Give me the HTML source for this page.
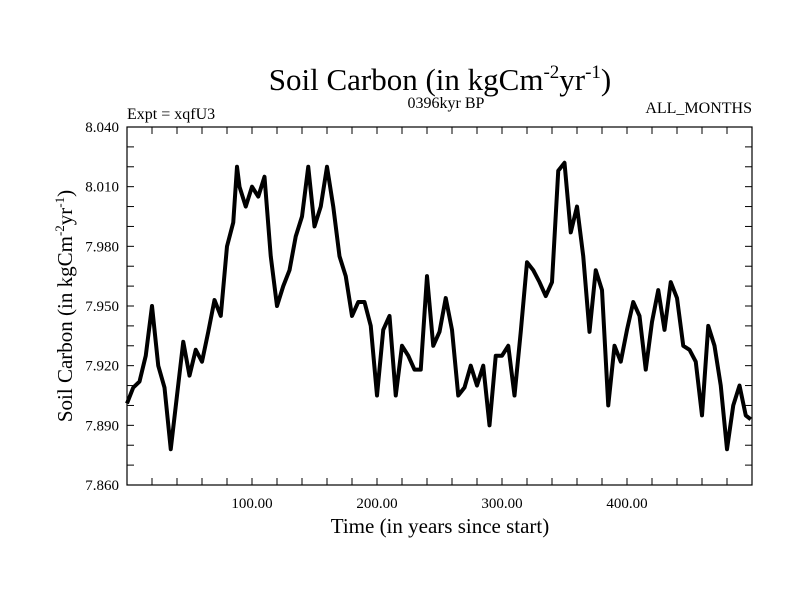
<!DOCTYPE html>
<html><head><meta charset="utf-8"><style>
body{margin:0;background:#fff}
svg{display:block;font-family:"Liberation Serif",serif}
</style></head><body>
<svg id="chart" width="800" height="600">
<text x="440" y="90" font-size="31" text-anchor="middle">Soil Carbon (in kgCm<tspan font-size="19" dy="-12">-2</tspan><tspan dy="12">yr</tspan><tspan font-size="19" dy="-12">-1</tspan><tspan dy="12">)</tspan></text>
<text x="127" y="119" font-size="16">Expt = xqfU3</text>
<text x="446" y="108" font-size="16" text-anchor="middle">0396kyr BP</text>
<text x="752" y="113" font-size="16" text-anchor="end">ALL_MONTHS</text>
<text x="440" y="533" font-size="21" text-anchor="middle">Time (in years since start)</text>
<text transform="translate(72,306) rotate(-90)" font-size="21" text-anchor="middle">Soil Carbon (in kgCm<tspan font-size="13" dy="-8">-2</tspan><tspan dy="8">yr</tspan><tspan font-size="13" dy="-8">-1</tspan><tspan dy="8">)</tspan></text>
<g id="axes"></g>
<g id="series"></g>
<rect x="127" y="127" width="625" height="358" fill="none" stroke="#000" stroke-width="1.2"/>
</svg>
<script>
const years = [0,5,10,15,20,25,30,35,40,45,50,55,60,65,70,75,80,85,88,90,95,100,105,110,115,120,125,130,135,140,145,150,155,160,165,170,175,180,185,190,195,200,205,210,215,220,225,230,235,240,245,250,255,260,265,270,275,280,285,290,295,300,305,310,315,320,325,330,335,340,345,350,355,360,365,370,375,380,385,390,395,400,405,410,415,420,425,430,435,440,445,450,455,460,465,470,475,480,485,490,495,499];
const values = [7.901,7.909,7.912,7.925,7.950,7.920,7.909,7.878,7.905,7.932,7.915,7.928,7.922,7.937,7.953,7.945,7.980,7.992,8.020,8.010,8.000,8.010,8.005,8.015,7.975,7.950,7.960,7.968,7.985,7.995,8.020,7.990,8.000,8.020,8.000,7.975,7.965,7.945,7.952,7.952,7.940,7.905,7.938,7.945,7.905,7.930,7.925,7.918,7.918,7.965,7.930,7.937,7.954,7.938,7.905,7.909,7.920,7.910,7.920,7.890,7.925,7.925,7.930,7.905,7.937,7.972,7.968,7.962,7.955,7.962,8.018,8.022,7.987,8.000,7.975,7.937,7.968,7.958,7.900,7.930,7.922,7.938,7.952,7.945,7.918,7.942,7.958,7.938,7.962,7.954,7.930,7.928,7.922,7.895,7.940,7.930,7.910,7.878,7.900,7.910,7.895,7.893];
const yTicks = ["7.860","7.890","7.920","7.950","7.980","8.010","8.040"];
const xTicks = ["100.00","200.00","300.00","400.00"];
const L=127,R=752,T=127,B=485,X0=0,X1=500,Y0=7.86,Y1=8.04;
const sx=v=>L+(v-X0)/(X1-X0)*(R-L);
const sy=v=>B-(v-Y0)/(Y1-Y0)*(B-T);
const NS="http://www.w3.org/2000/svg";
const axes=document.getElementById('axes'), ser=document.getElementById('series');
function ln(x1,y1,x2,y2){const e=document.createElementNS(NS,'line');e.setAttribute('x1',x1);e.setAttribute('y1',y1);e.setAttribute('x2',x2);e.setAttribute('y2',y2);e.setAttribute('stroke','#000');e.setAttribute('stroke-width','1');


axes.appendChild(e);}
for(let v=Y0;v<=Y1+1e-9;v+=0.01){const y=sy(v);ln(L,y,L+7,y);ln(R,y,R-7,y);}
for(let v=20;v<X1;v+=20){const x=sx(v);ln(x,B,x,B-7);ln(x,T,x,T+7);}
yTicks.forEach(t=>{const e=document.createElementNS(NS,'text');e.setAttribute('x',119);e.setAttribute('y',sy(+t)+5);e.setAttribute('font-size','15');e.setAttribute('text-anchor','end');e.textContent=t;


axes.appendChild(e);});
xTicks.forEach(t=>{const e=document.createElementNS(NS,'text');e.setAttribute('x',sx(+t));e.setAttribute('y',508);e.setAttribute('font-size','15');e.setAttribute('text-anchor','middle');e.textContent=t;


axes.appendChild(e);});
const p=document.createElementNS(NS,'polyline');
p.setAttribute('points',years.map((y,i)=>sx(y)+','+sy(values[i])).join(' '));
p.setAttribute('fill','none');p.setAttribute('stroke','#000');p.setAttribute('stroke-width','4');p.setAttribute('stroke-linejoin','round');


ser.appendChild(p);
</script>
</body></html>
